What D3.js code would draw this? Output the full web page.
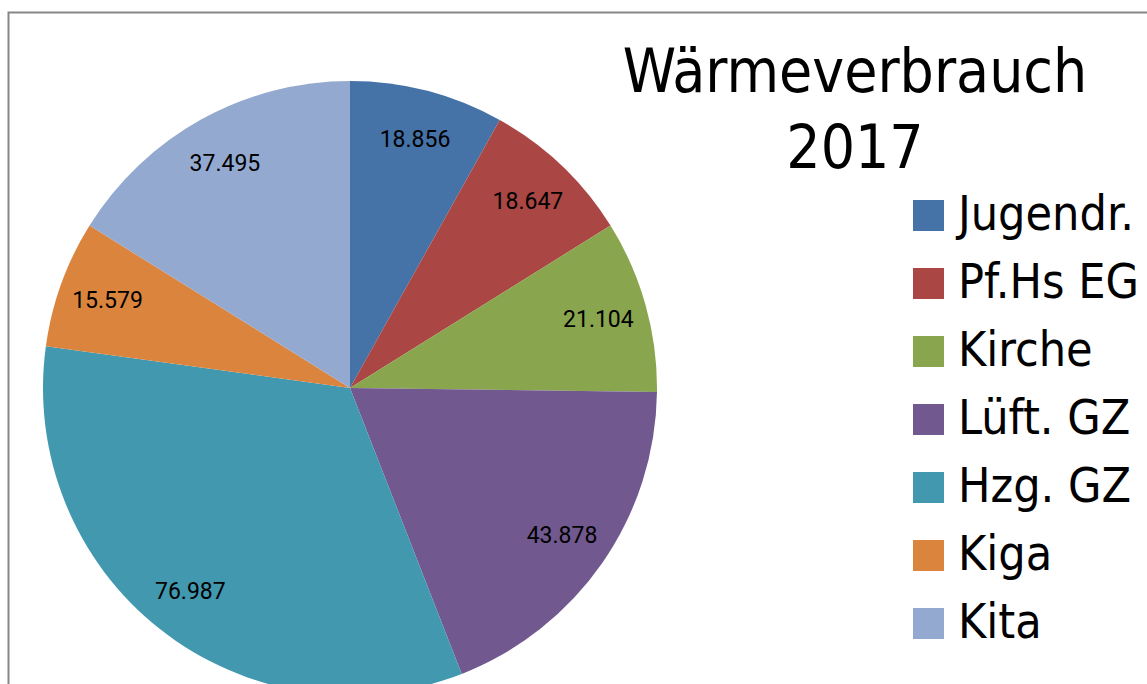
<!DOCTYPE html>
<html>
<head>
<meta charset="utf-8">
<script src="https://cdn.jsdelivr.net/npm/d3@7"></script>
<style>
  body { margin: 0; background: #fff; }
  svg { display: block; }
</style>
</head>
<body>
<div id="chart"></div>
<script>
// Wärmeverbrauch 2017 pie
var categories = ["Jugendr.", "Pf.Hs EG", "Kirche", "Lüft. GZ", "Hzg. GZ", "Kiga", "Kita"];
var values = [18.856, 18.647, 21.104, 43.878, 76.987, 15.579, 37.495];
var valueLabels = ["18.856", "18.647", "21.104", "43.878", "76.987", "15.579", "37.495"];
var colors = ["#4572A7", "#AA4643", "#89A54E", "#71588F", "#4198AF", "#DB843D", "#93A9CF"];
var titleLines = ["Wärmeverbrauch", "2017"];

var width = 1147, height = 684;
var cx = 350, cy = 388, radius = 307;
var narrow = "'Liberation Sans Narrow', 'DejaVu Sans Condensed', 'Arial Narrow', sans-serif";

var svg = d3.select("#chart").append("svg")
  .attr("width", width)
  .attr("height", height);

// chart area frame
svg.append("rect")
  .attr("x", 8.5).attr("y", 12.5)
  .attr("width", width + 20).attr("height", height + 20)
  .attr("fill", "#fff")
  .attr("stroke", "#878787")
  .attr("stroke-width", 2);

var data = categories.map(function(c, i) {
  return { name: c, value: values[i], label: valueLabels[i] };
});

var color = d3.scaleOrdinal().domain(categories).range(colors);

var pie = d3.pie()
  .sort(null)
  .value(function(d) { return d.value; });

var arc = d3.arc().innerRadius(0).outerRadius(radius);
var labelArc = d3.arc().innerRadius(radius * 0.84).outerRadius(radius * 0.84);

var g = svg.append("g")
  .attr("transform", "translate(" + cx + "," + cy + ")");

var slices = g.selectAll(".slice")
  .data(pie(data))
  .enter().append("g")
  .attr("class", "slice");

slices.append("path")
  .attr("d", arc)
  .attr("fill", function(d) { return color(d.data.name); });

slices.append("text")
  .attr("transform", function(d) { return "translate(" + labelArc.centroid(d) + ")"; })
  .attr("text-anchor", "middle")
  .attr("dy", "0.35em")
  .style("font-family", "Roboto, 'Open Sans', sans-serif")
  .style("font-size", "23px")
  .attr("fill", "#000")
  .text(function(d) { return d.data.label; });

// title
svg.append("g").selectAll("text")
  .data(titleLines)
  .enter().append("text")
  .attr("x", 855)
  .attr("y", function(d, i) { return 92 + i * 76; })
  .attr("text-anchor", "middle")
  .style("font-family", narrow)
  .style("font-size", "60px")
  .attr("fill", "#000")
  .text(function(d) { return d; });

// legend
var legend = svg.append("g").attr("transform", "translate(913,200)");
var items = legend.selectAll(".item")
  .data(categories)
  .enter().append("g")
  .attr("class", "item")
  .attr("transform", function(d, i) { return "translate(0," + i * 68 + ")"; });

items.append("rect")
  .attr("width", 31).attr("height", 31)
  .attr("fill", function(d) { return color(d); });

items.append("text")
  .attr("x", 45)
  .attr("y", 30)
  .style("font-family", narrow)
  .style("font-size", "48px")
  .attr("fill", "#000")
  .text(function(d) { return d; });
</script>
</body>
</html>
